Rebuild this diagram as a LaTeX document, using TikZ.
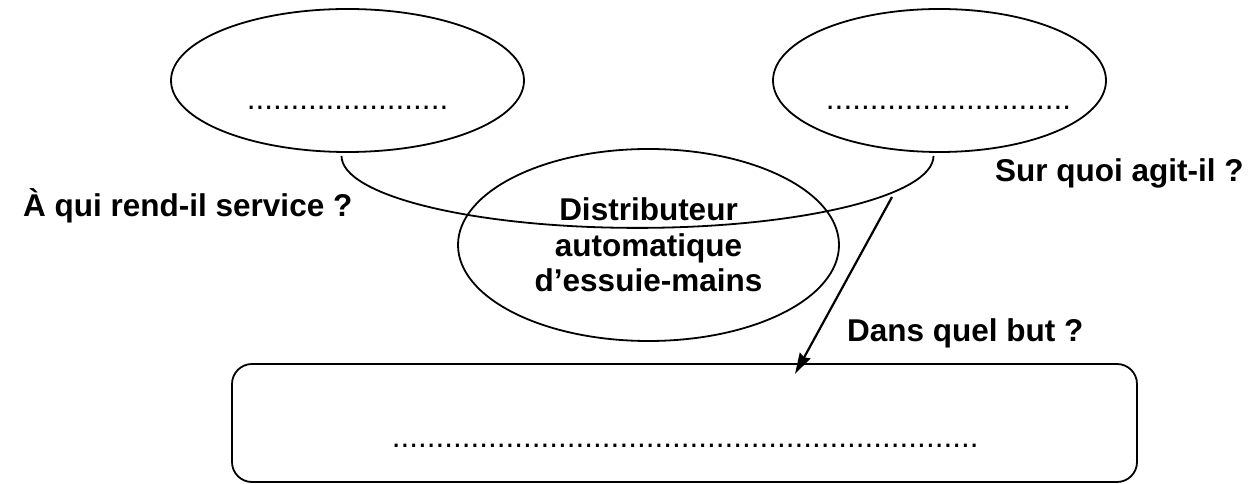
\documentclass[tikz,border=0pt]{standalone}
\usepackage{fontspec}
\setmainfont{Liberation Sans}
\usetikzlibrary{positioning, shapes.geometric, arrows.meta}
\tikzstyle{arrow} = [line width=2.2pt,->,>={Stealth[length=21pt,width=12pt,inset=2pt]}]

\begin{document}
\begin{tikzpicture}[x=1pt, y=1pt,
    bulle/.style={ellipse, draw, line width=1.8pt, inner sep=0pt},
    pointilles/.style={font=\fontsize{31.5}{35.5}\selectfont, inner sep=0pt, anchor=base},
    question/.style={font=\fontsize{31.5}{35.5}\selectfont\bfseries, inner sep=0pt, anchor=base west}
  ]
  \useasboundingbox (0,0) rectangle (1257,484);

  \node[bulle, minimum width=353pt, minimum height=143pt] (usager) at (347.5,403.5) {};
  \node[bulle, minimum width=333pt, minimum height=143pt] (matiere) at (939.5,403.5) {};
  \node[bulle, minimum width=381pt, minimum height=192pt, align=center,
        font=\fontsize{31.5}{35.5}\selectfont\bfseries] (produit) at (648.5,239)
        {Distributeur\\automatique\\d’essuie-mains};
  \node[draw, line width=1.8pt, rounded corners=20pt, minimum width=905pt,
        minimum height=118pt] (but) at (684.5,61) {};

  \node[pointilles] (usagerTxt) at (347.5,374) {.......................};
  \node[pointilles] (matiereTxt) at (948.5,374) {............................};
  \node[pointilles] (butTxt) at (685,36) {...................................................................};

  \node[question] (qui) at (23,267) {À qui rend-il service ?};
  \node[question] (quoi) at (995,302) {Sur quoi agit-il ?};
  \node[question] (pourquoi) at (847,142) {Dans quel but ?};

  \draw[line width=1.8pt] ([xshift=-6pt,yshift=-3pt]usager.south)
    arc[start angle=180, end angle=360, x radius=296, y radius=72];

  \coordinate (depart) at (892,287);
  \coordinate (arrivee) at (795,110);
  \draw[arrow] (depart) -- (arrivee);

\end{tikzpicture}
\end{document}
